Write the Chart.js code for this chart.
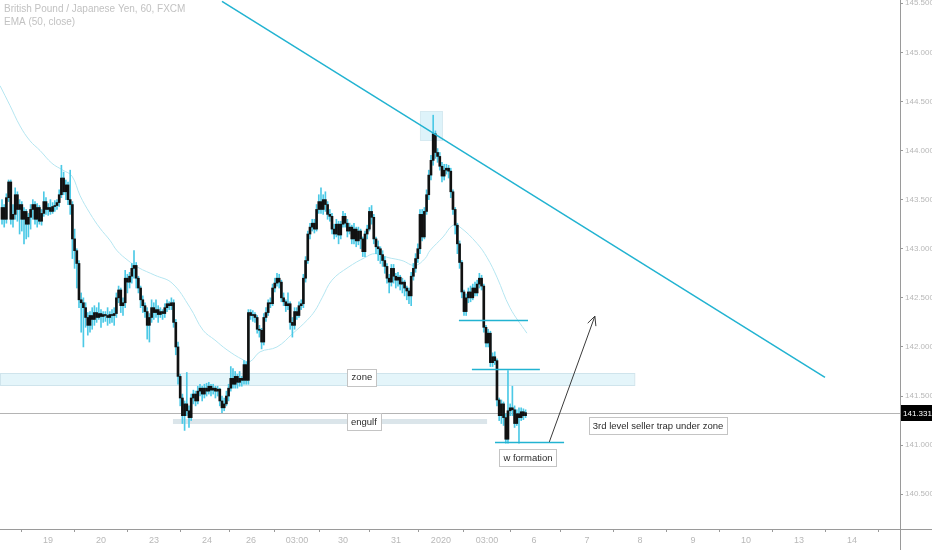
<!DOCTYPE html>
<html><head><meta charset="utf-8">
<script src="https://cdn.jsdelivr.net/npm/chart.js@4.4.1/dist/chart.umd.min.js"></script>
<style>html,body{margin:0;padding:0;background:#fff;}#wrap{width:932px;height:550px;position:relative;}</style>
</head><body><div id="wrap"><canvas id="c" width="932" height="550"></canvas></div>
<script>
// ---- Data (GBP/JPY 60 min) ----
const candleOpen = [143.30,143.42,143.30,143.52,143.68,143.30,143.35,143.55,143.40,143.45,143.30,143.38,143.25,143.32,143.40,143.45,143.30,143.42,143.28,143.36,143.48,143.40,143.42,143.38,143.43,143.44,143.47,143.55,143.72,143.58,143.65,143.50,143.45,143.10,142.98,142.85,142.48,142.45,142.40,142.30,142.22,142.32,142.28,142.35,142.30,142.34,142.31,142.33,142.32,142.30,142.33,142.32,142.34,142.50,142.58,142.42,142.45,142.70,142.66,142.72,142.80,142.83,142.70,142.60,142.48,142.42,142.36,142.22,142.30,142.40,142.35,142.38,142.33,142.36,142.34,142.40,142.44,142.42,142.45,142.25,142.00,141.70,141.48,141.30,141.42,141.35,141.28,141.48,141.52,141.45,141.55,141.58,141.52,141.58,141.55,141.60,141.56,141.58,141.55,141.57,141.45,141.38,141.42,141.50,141.58,141.68,141.62,141.70,141.64,141.68,141.66,141.82,141.66,142.35,142.32,142.33,142.30,142.18,142.17,142.05,142.30,142.35,142.45,142.44,142.60,142.65,142.70,142.66,142.50,142.46,142.42,142.44,142.25,142.22,142.36,142.32,142.42,142.44,142.70,142.88,143.15,143.22,143.26,143.20,143.40,143.48,143.40,143.50,143.45,143.35,143.33,143.20,143.15,143.25,143.14,143.25,143.33,143.26,143.18,143.22,143.10,143.20,143.08,143.18,143.10,142.97,143.15,143.20,143.38,143.32,143.10,143.02,143.00,142.94,142.88,142.82,142.70,142.66,142.80,142.72,142.68,142.71,142.64,142.66,142.60,142.57,142.52,142.72,142.80,142.90,143.00,143.35,143.12,143.38,143.55,143.75,143.90,144.17,143.98,143.94,143.84,143.74,143.80,143.82,143.79,143.58,143.40,143.24,143.05,142.86,142.56,142.36,142.50,142.56,142.50,142.60,142.55,142.64,142.70,142.62,142.20,142.04,142.14,141.84,141.90,141.86,141.46,141.30,141.42,141.28,141.06,141.35,141.38,141.36,141.22,141.32,141.28,141.34,141.30];
const candleHigh = [143.50,143.45,143.56,143.70,143.70,143.45,143.62,143.58,143.50,143.48,143.42,143.40,143.36,143.45,143.50,143.48,143.46,143.44,143.40,143.58,143.52,143.46,143.50,143.47,143.49,143.50,143.60,143.85,143.78,143.70,143.68,143.80,143.48,143.20,143.00,142.88,142.55,142.50,142.45,142.35,142.36,142.40,142.42,142.40,142.45,142.38,142.36,142.36,142.40,142.36,142.38,142.40,142.55,142.62,142.60,142.50,142.78,142.74,142.76,142.85,142.98,142.86,142.72,142.62,142.52,142.45,142.40,142.34,142.48,142.45,142.48,142.42,142.40,142.38,142.44,142.48,142.46,142.50,142.48,142.28,142.05,141.72,141.52,141.45,141.74,141.40,141.52,141.56,141.55,141.60,141.62,141.60,141.62,141.63,141.64,141.62,141.62,141.60,141.60,141.58,141.50,141.48,141.55,141.62,141.80,141.78,141.75,141.72,141.75,141.70,141.86,141.85,142.38,142.38,142.37,142.35,142.32,142.22,142.19,142.34,142.40,142.48,142.50,142.64,142.70,142.75,142.74,142.68,142.55,142.48,142.55,142.46,142.30,142.40,142.40,142.46,142.48,142.74,142.92,143.18,143.26,143.30,143.30,143.45,143.55,143.62,143.55,143.58,143.48,143.40,143.36,143.25,143.30,143.28,143.28,143.38,143.36,143.30,143.26,143.24,143.26,143.22,143.22,143.20,143.12,143.18,143.24,143.42,143.44,143.35,143.12,143.08,143.02,142.98,142.92,142.85,142.74,142.84,142.84,142.75,142.76,142.73,142.70,142.68,142.62,142.60,142.76,142.85,142.95,143.05,143.40,143.40,143.42,143.60,143.80,143.95,144.36,144.20,144.02,143.98,143.88,143.86,143.86,143.85,143.82,143.60,143.42,143.26,143.08,142.88,142.58,142.54,142.60,142.62,142.64,142.66,142.68,142.75,142.73,142.64,142.22,142.18,142.16,141.94,141.95,141.88,141.48,141.46,141.44,141.32,141.76,141.42,141.60,141.40,141.36,141.38,141.38,141.37,141.36];
const candleLow = [143.25,143.22,143.26,143.48,143.25,143.22,143.30,143.28,143.15,143.18,143.05,143.10,143.12,143.20,143.30,143.25,143.22,143.25,143.24,143.33,143.35,143.34,143.35,143.36,143.38,143.40,143.43,143.52,143.55,143.50,143.45,143.35,142.90,142.80,142.60,142.40,142.15,142.00,142.20,142.12,142.15,142.18,142.22,142.25,142.28,142.20,142.25,142.26,142.22,142.24,142.25,142.22,142.30,142.45,142.35,142.32,142.40,142.55,142.60,142.65,142.70,142.60,142.55,142.40,142.35,142.30,142.08,142.05,142.25,142.28,142.30,142.25,142.30,142.28,142.30,142.36,142.38,142.38,142.20,141.92,141.62,141.40,141.22,141.15,141.30,141.18,141.25,141.42,141.40,141.42,141.50,141.45,141.48,141.50,141.52,141.50,141.52,141.48,141.50,141.40,141.33,141.35,141.40,141.45,141.55,141.58,141.58,141.58,141.60,141.60,141.62,141.62,141.62,142.28,142.26,142.25,142.14,142.10,141.98,142.02,142.26,142.32,142.40,142.42,142.56,142.62,142.60,142.46,142.42,142.36,142.38,142.18,142.10,142.18,142.28,142.30,142.38,142.40,142.66,142.85,143.10,143.18,143.16,143.18,143.36,143.36,143.35,143.38,143.30,143.28,143.15,143.10,143.12,143.05,143.10,143.22,143.22,143.12,143.15,143.05,143.05,143.02,143.04,143.00,142.92,142.92,143.10,143.18,143.25,143.05,142.95,142.88,142.85,142.82,142.75,142.65,142.55,142.62,142.65,142.60,142.62,142.58,142.55,142.52,142.48,142.44,142.42,142.68,142.76,142.86,142.95,143.08,143.10,143.35,143.50,143.70,143.85,143.92,143.88,143.80,143.68,143.70,143.76,143.72,143.52,143.35,143.15,142.95,142.80,142.50,142.32,142.32,142.45,142.46,142.48,142.52,142.52,142.60,142.58,142.15,142.00,142.00,141.80,141.80,141.82,141.40,141.25,141.22,141.20,141.02,141.02,141.30,141.30,141.18,141.20,141.02,141.25,141.26,141.28];
const candleClose = [143.42,143.30,143.52,143.68,143.30,143.35,143.55,143.40,143.45,143.30,143.38,143.25,143.32,143.40,143.45,143.30,143.42,143.28,143.36,143.48,143.40,143.42,143.38,143.43,143.44,143.47,143.55,143.72,143.58,143.65,143.50,143.45,143.10,142.98,142.85,142.48,142.45,142.40,142.30,142.22,142.32,142.28,142.35,142.30,142.34,142.31,142.33,142.32,142.30,142.33,142.32,142.34,142.50,142.58,142.42,142.45,142.70,142.66,142.72,142.80,142.83,142.70,142.60,142.48,142.42,142.36,142.22,142.30,142.40,142.35,142.38,142.33,142.36,142.34,142.40,142.44,142.42,142.45,142.25,142.00,141.70,141.48,141.30,141.42,141.35,141.28,141.48,141.52,141.45,141.55,141.58,141.52,141.58,141.55,141.60,141.56,141.58,141.55,141.57,141.45,141.38,141.42,141.50,141.58,141.68,141.62,141.70,141.64,141.68,141.66,141.82,141.66,142.35,142.32,142.33,142.30,142.18,142.17,142.05,142.30,142.35,142.45,142.44,142.60,142.65,142.70,142.66,142.50,142.46,142.42,142.44,142.25,142.22,142.36,142.32,142.42,142.44,142.70,142.88,143.15,143.22,143.26,143.20,143.40,143.48,143.40,143.50,143.45,143.35,143.33,143.20,143.15,143.25,143.14,143.25,143.33,143.26,143.18,143.22,143.10,143.20,143.08,143.18,143.10,142.97,143.15,143.20,143.38,143.32,143.10,143.02,143.00,142.94,142.88,142.82,142.70,142.66,142.80,142.72,142.68,142.71,142.64,142.66,142.60,142.57,142.52,142.72,142.80,142.90,143.00,143.35,143.12,143.38,143.55,143.75,143.90,144.17,143.98,143.94,143.84,143.74,143.80,143.82,143.79,143.58,143.40,143.24,143.05,142.86,142.56,142.36,142.50,142.56,142.50,142.60,142.55,142.64,142.70,142.62,142.20,142.04,142.14,141.84,141.90,141.86,141.46,141.30,141.42,141.28,141.06,141.35,141.38,141.36,141.22,141.32,141.28,141.34,141.30,141.331];

// EMA (50, close) read at selected bars: bar index and value
const emaBar = [-0.9,3.6,8.2,12.7,17.3,22.7,27.7,31.8,35.5,40,44.5,49.1,52.3,57.3,61.8,69.5,77.3,85.5,91.4,96.8,102.3,109.5,112.7,117.3,125,132.3,138.6,142.3,145.5,150,157.3,165,169.5,175.5,181.8,187.7,192.3,194.5,200.5,205,208.2,215.9,220.5,225,230.9,238.6];
const emaValue = [144.66,144.46,144.25,144.10,144.00,143.87,143.80,143.74,143.54,143.36,143.21,143.085,142.98,142.88,142.81,142.73,142.65,142.40,142.17,142.07,141.97,141.87,141.85,141.95,142.00,142.14,142.27,142.37,142.50,142.68,142.81,142.91,142.95,142.91,142.88,142.83,142.90,142.98,143.12,143.24,143.22,143.055,142.91,142.71,142.40,142.14];

// Axis ticks
const dayTickBars = [20.9,45,69.1,93.2,113.2,134.1,155,179.1,199.5,220.5,241.8,265.9,290,314.1,338.2,362.3,386.4];
const dayTickLabels = ['19','20','23','24','26','03:00','30','31','2020','03:00','6','7','8','9','10','13','14'];
const priceTicks = [140.5,141.0,141.5,142.0,142.5,143.0,143.5,144.0,144.5,145.0,145.5];
const lastPrice = 141.331;

// Drawings (in bar-index / price units)
const trendLine = {x1:100, y1:145.52, x2:374.1, y2:141.69};
const zoneBox = {x1:-1, x2:287.3, top:141.734, bottom:141.612};
const engulfBox = {x1:77.7, x2:220.5, top:141.266, bottom:141.215};
const peakBox = {x1:190, x2:200, top:144.40, bottom:144.10};
const levelLines = [{x1:207.7,x2:239.1,y:142.272},{x1:213.6,x2:244.5,y:141.774},{x1:224.1,x2:255.5,y:141.033}];
const arrow = {x1:248.8, y1:141.033, x2:269.5, y2:142.313};
const notes = [
  {text:'zone', x:163.6, y:141.693},
  {text:'engulf', x:164.5, y:141.236},
  {text:'w formation', x:239.1, y:140.87},
  {text:'3rd level seller trap under zone', x:298.2, y:141.195}
];

const idx = candleClose.map((_, i) => i);
const WICK = '#4cc9e6';
const TEAL = '#22b3d1';
const FONT = '"Liberation Sans", Arial, sans-serif';

const drawings = {
  id: 'drawings',
  beforeDatasetsDraw(chart) {
    const {ctx, scales:{x, y}, chartArea:a} = chart;
    ctx.save();
    ctx.beginPath(); ctx.rect(a.left, a.top, a.right - a.left, a.bottom - a.top); ctx.clip();
    const box = (b, fill, stroke) => {
      const l = x.getPixelForValue(b.x1), r = x.getPixelForValue(b.x2);
      const t = y.getPixelForValue(b.top), bt = y.getPixelForValue(b.bottom);
      ctx.fillStyle = fill; ctx.fillRect(l, t, r - l, bt - t);
      if (stroke) { ctx.strokeStyle = stroke; ctx.lineWidth = 1; ctx.strokeRect(Math.round(l)+0.5, Math.round(t)+0.5, r - l, Math.round(bt - t)); }
    };
    box(zoneBox, 'rgba(196,232,243,0.45)', '#cfe4ec');
    box(engulfBox, '#dbe5ea', null);
    box(peakBox, 'rgba(190,232,245,0.5)', '#d6eaf1');
    const py = Math.round(y.getPixelForValue(lastPrice)) + 0.5;
    ctx.strokeStyle = '#b4b4b4'; ctx.lineWidth = 1;
    ctx.beginPath(); ctx.moveTo(a.left, py); ctx.lineTo(a.right, py); ctx.stroke();
    ctx.restore();
  },
  afterDatasetsDraw(chart) {
    const {ctx, scales:{x, y}, chartArea:a} = chart;
    const X = v => x.getPixelForValue(v), Y = v => y.getPixelForValue(v);
    ctx.save();
    ctx.beginPath(); ctx.rect(a.left, a.top, a.right - a.left, a.bottom - a.top); ctx.clip();
    ctx.strokeStyle = TEAL; ctx.lineWidth = 1.5;
    ctx.beginPath(); ctx.moveTo(X(trendLine.x1), Y(trendLine.y1)); ctx.lineTo(X(trendLine.x2), Y(trendLine.y2)); ctx.stroke();
    levelLines.forEach(l => {
      const yy = Math.round(Y(l.y)) + 0.5;
      ctx.beginPath(); ctx.moveTo(X(l.x1), yy); ctx.lineTo(X(l.x2), yy); ctx.stroke();
    });
    const ax1 = X(arrow.x1), ay1 = Y(arrow.y1), ax2 = X(arrow.x2), ay2 = Y(arrow.y2);
    ctx.strokeStyle = '#3a3a3a'; ctx.lineWidth = 1;
    ctx.beginPath(); ctx.moveTo(ax1, ay1); ctx.lineTo(ax2, ay2); ctx.stroke();
    const ang = Math.atan2(ay2 - ay1, ax2 - ax1), hl = 10;
    ctx.beginPath();
    ctx.moveTo(ax2 - hl * Math.cos(ang - 0.45), ay2 - hl * Math.sin(ang - 0.45));
    ctx.lineTo(ax2, ay2);
    ctx.lineTo(ax2 - hl * Math.cos(ang + 0.45), ay2 - hl * Math.sin(ang + 0.45));
    ctx.stroke();
    ctx.font = '9.5px ' + FONT;
    ctx.textAlign = 'center'; ctx.textBaseline = 'middle';
    notes.forEach(n => {
      const cx = X(n.x), cy = Y(n.y);
      const w = Math.round(ctx.measureText(n.text).width) + 8, h = 17;
      const l = Math.round(cx - w / 2) + 0.5, t = Math.round(cy - h / 2) + 0.5;
      ctx.fillStyle = '#ffffff'; ctx.fillRect(l, t, w, h);
      ctx.strokeStyle = '#c4c4c4'; ctx.strokeRect(l, t, w, h);
      ctx.fillStyle = '#2b2b2b'; ctx.fillText(n.text, cx, cy + 0.5);
    });
    ctx.restore();
  },
  afterDraw(chart) {
    const {ctx, scales:{y}, chartArea:a, width, height} = chart;
    ctx.save();
    ctx.strokeStyle = '#9a9a9a'; ctx.lineWidth = 1;
    ctx.beginPath();
    ctx.moveTo(Math.round(a.right) + 0.5, 0); ctx.lineTo(Math.round(a.right) + 0.5, height);
    ctx.moveTo(0, Math.round(a.bottom) + 0.5); ctx.lineTo(width, Math.round(a.bottom) + 0.5);
    ctx.stroke();
    const py = Math.round(y.getPixelForValue(lastPrice));
    ctx.fillStyle = '#000000';
    ctx.fillRect(a.right + 1, py - 8, width - a.right - 1, 16);
    ctx.fillStyle = '#ffffff';
    ctx.font = '8px ' + FONT;
    ctx.textAlign = 'left'; ctx.textBaseline = 'middle';
    ctx.fillText(lastPrice.toFixed(3), a.right + 3, py + 0.5);
    ctx.fillStyle = '#c2c2c2';
    ctx.font = '10px ' + FONT;
    ctx.fillText('British Pound / Japanese Yen, 60, FXCM', 4, 9);
    ctx.fillText('EMA (50, close)', 4, 22);
    ctx.restore();
  }
};

new Chart(document.getElementById('c'), {
  type: 'bar',
  data: {
    datasets: [
      { label: 'wick', data: idx.map(i => ({x: i, y: [candleLow[i], candleHigh[i]]})),
        backgroundColor: WICK, barThickness: 1, grouped: false, order: 2 },
      { label: 'body', data: idx.map(i => ({x: i, y: [candleOpen[i], candleClose[i]]})),
        backgroundColor: '#111111', barThickness: 2, minBarLength: 1, grouped: false, order: 1 },
      { type: 'line', label: 'EMA (50, close)', data: emaBar.map((b, k) => ({x: b, y: emaValue[k]})),
        borderColor: '#b5e6f1', borderWidth: 1, pointRadius: 0, tension: 0.4, order: 3 }
    ]
  },
  options: {
    responsive: false, animation: false, devicePixelRatio: 1,
    layout: { padding: 0, autoPadding: false },
    plugins: { legend: { display: false }, tooltip: { enabled: false } },
    scales: {
      x: {
        type: 'linear', min: -0.91, max: 408.2, offset: false,
        border: { display: false },
        grid: { drawOnChartArea: false, drawTicks: true, tickLength: 3, color: '#9a9a9a' },
        afterBuildTicks: s => { s.ticks = dayTickBars.map(v => ({value: v})); },
        afterFit: s => { s.height = 21; s.paddingLeft = 0; s.paddingRight = 0; },
        ticks: { autoSkip: false, maxRotation: 0, padding: 3, color: '#b8b8b8',
          font: { size: 9, family: FONT },
          callback: (v, i) => dayTickLabels[i] }
      },
      y: {
        position: 'right', min: 140.146, max: 145.533,
        border: { display: false },
        grid: { drawOnChartArea: false, drawTicks: true, tickLength: 3, color: '#9a9a9a' },
        afterBuildTicks: s => { s.ticks = priceTicks.map(v => ({value: v})); },
        afterFit: s => { s.width = 32; s.paddingTop = 0; s.paddingBottom = 0; },
        ticks: { padding: 2, color: '#b8b8b8',
          font: { size: 8, family: FONT },
          callback: v => Number(v).toFixed(3) }
      }
    }
  },
  plugins: [drawings]
});
</script></body></html>
